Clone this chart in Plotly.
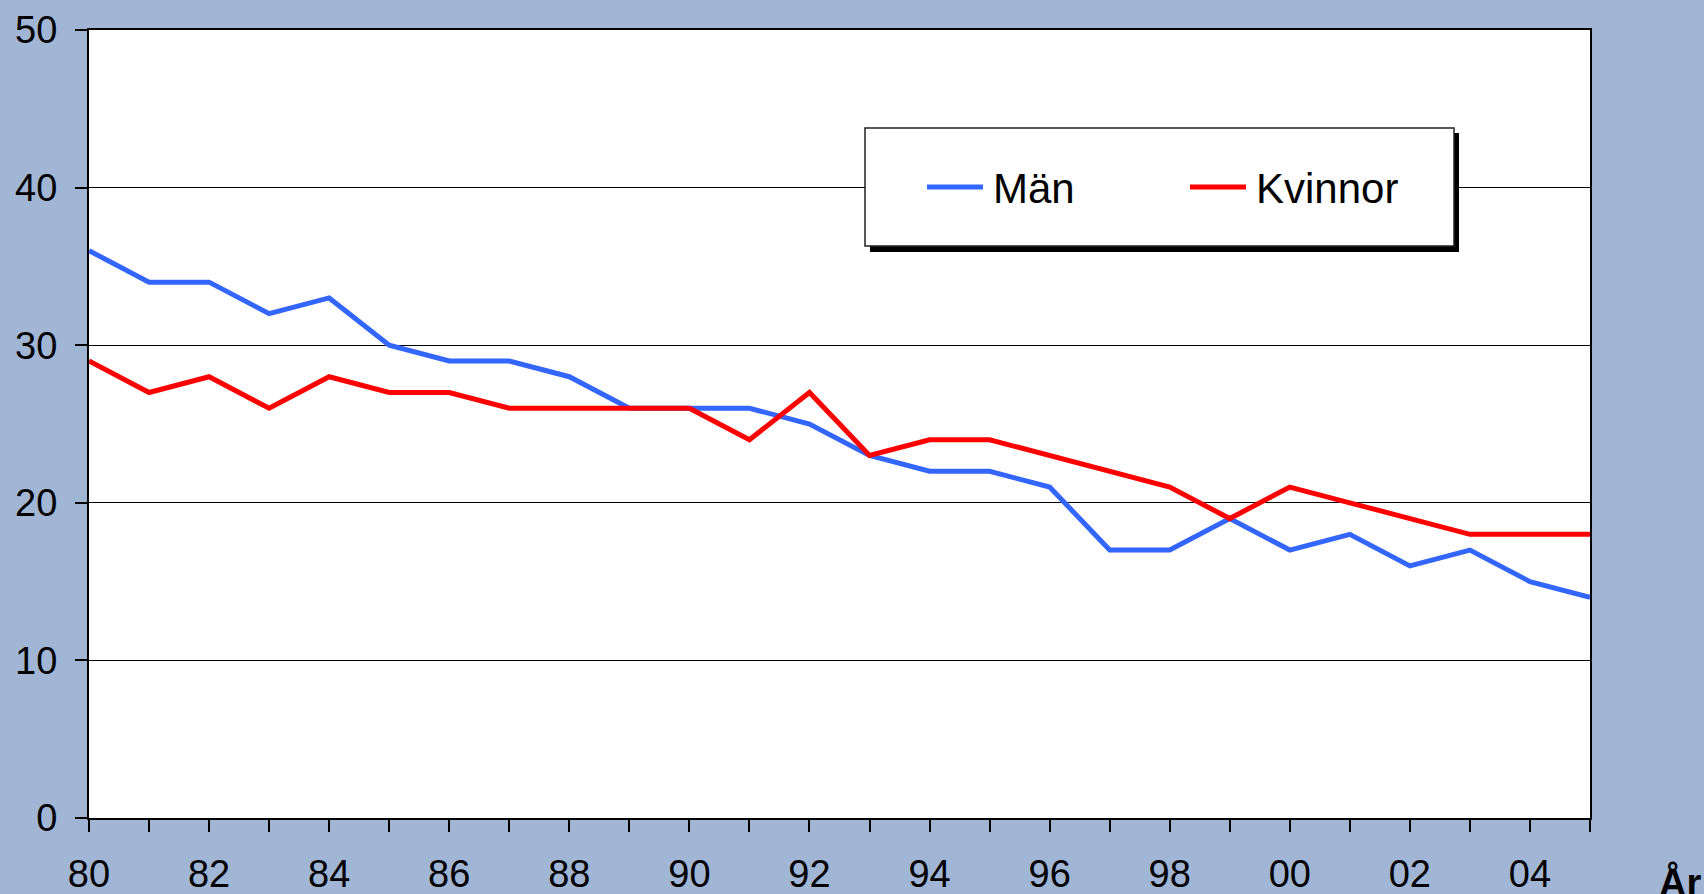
import plotly.graph_objects as go

# Years 1980-2005 and the share (%) for men and women
years = [1980, 1981, 1982, 1983, 1984, 1985, 1986, 1987, 1988, 1989,
         1990, 1991, 1992, 1993, 1994, 1995, 1996, 1997, 1998, 1999,
         2000, 2001, 2002, 2003, 2004, 2005]
man = [36, 34, 34, 32, 33, 30, 29, 29, 28, 26,
       26, 26, 25, 23, 22, 22, 21, 17, 17, 19,
       17, 18, 16, 17, 15, 14]
kvinnor = [29, 27, 28, 26, 28, 27, 27, 26, 26, 26,
           26, 24, 27, 23, 24, 24, 23, 22, 21, 19,
           21, 20, 19, 18, 18, 18]

x_tickvals = [1980, 1982, 1984, 1986, 1988, 1990, 1992, 1994, 1996, 1998,
              2000, 2002, 2004]
x_ticktext = ["80", "82", "84", "86", "88", "90", "92", "94", "96", "98",
              "00", "02", "04"]

series = [("Män", man, "#3366FF"), ("Kvinnor", kvinnor, "#FF0000")]

BG = "#A1B5D5"
FONT = "Liberation Sans, Arial, sans-serif"

W, H = 1704, 894
ML, MR, MT, MB = 89, 114, 30, 76
PW, PH = W - ML - MR, H - MT - MB


def px_x(p):
    return (p - ML) / PW


def px_y(p):
    return (H - MB - p) / PH


fig = go.Figure()
for name, vals, color in series:
    fig.add_trace(go.Scatter(x=years, y=vals, mode="lines", name=name,
                             line=dict(color=color, width=5)))

# legend frame with drop shadow
bx0, bx1, by0, by1 = 865, 1454, 128, 246
fig.add_shape(type="rect", xref="paper", yref="paper",
              x0=px_x(bx0 + 5), x1=px_x(bx1 + 5),
              y0=px_y(by1 + 6), y1=px_y(by0 + 5),
              fillcolor="black", line=dict(width=0), layer="above")
fig.add_shape(type="rect", xref="paper", yref="paper",
              x0=px_x(bx0), x1=px_x(bx1), y0=px_y(by1), y1=px_y(by0),
              fillcolor="white", line=dict(color="#222222", width=1.5),
              layer="above")

# legend entries: sample line + label
ly = 187
for (name, _, color), lx in zip(series, [927, 1190]):
    fig.add_shape(type="line", xref="paper", yref="paper",
                  x0=px_x(lx), x1=px_x(lx + 56), y0=px_y(ly), y1=px_y(ly),
                  line=dict(color=color, width=5), layer="above")
    fig.add_annotation(text=name, xref="paper", yref="paper",
                       x=px_x(lx + 64), y=px_y(ly + 1),
                       xanchor="left", yanchor="middle", showarrow=False,
                       font=dict(family=FONT, size=42, color="black"))

fig.add_annotation(text="<b>År</b>", xref="paper", yref="paper",
                   x=px_x(1657), y=px_y(859), xanchor="left", yanchor="top",
                   showarrow=False, font=dict(family=FONT, size=38, color="black"))

fig.update_layout(
    width=W, height=H,
    margin=dict(l=ML, r=MR, t=MT, b=MB),
    paper_bgcolor=BG, plot_bgcolor="white",
    font=dict(family=FONT, color="black"),
    showlegend=False,
    xaxis=dict(range=[1980, 2005], tickvals=x_tickvals, ticktext=x_ticktext,
               ticks="outside", ticklen=12, tickwidth=2, tickcolor="black",
               minor=dict(dtick=1, tick0=1980, ticks="outside", ticklen=12,
                          tickwidth=2, tickcolor="black", showgrid=False),
               showgrid=False, zeroline=False, automargin=False,
               ticklabelstandoff=9,
               showline=True, linecolor="black", linewidth=2, mirror=True,
               tickfont=dict(family=FONT, size=38, color="black")),
    yaxis=dict(range=[0, 50], dtick=10, tick0=0,
               ticks="outside", ticklen=12, tickwidth=2, tickcolor="black",
               showgrid=True, gridcolor="black", gridwidth=1, zeroline=False,
               automargin=False, ticklabelstandoff=10,
               showline=True, linecolor="black", linewidth=2, mirror=True,
               tickfont=dict(family=FONT, size=38, color="black")),
)

fig.write_html("out.html")
